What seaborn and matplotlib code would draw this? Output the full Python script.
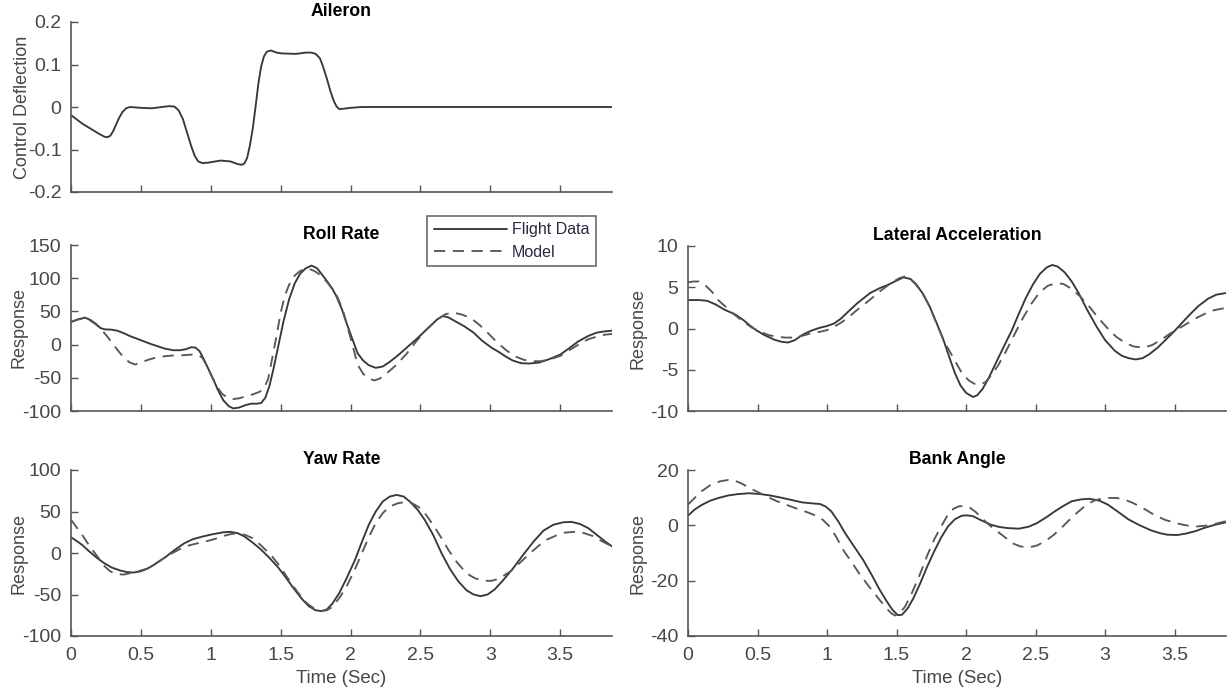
import matplotlib
matplotlib.use("Agg")
import matplotlib.pyplot as plt
import seaborn as sns

# ---- Aileron command ----
ail_t = [0, 0.04, 0.08, 0.12, 0.16, 0.20, 0.24, 0.26, 0.28, 0.30, 0.32, 0.345, 0.37, 0.395,
         0.42, 0.50, 0.58, 0.65, 0.70, 0.74, 0.77, 0.80, 0.83, 0.86, 0.885, 0.91, 0.94,
         0.98, 1.07, 1.14, 1.19, 1.22, 1.24, 1.26, 1.28, 1.30, 1.32, 1.34, 1.36, 1.38,
         1.40, 1.43, 1.47, 1.51, 1.61, 1.68, 1.72, 1.75, 1.78, 1.80, 1.83, 1.855, 1.88,
         1.90, 1.92, 1.95, 2.00, 2.08, 3.87]
ail_v = [-0.019, -0.029, -0.039, -0.047, -0.055, -0.063, -0.070, -0.071, -0.068, -0.058,
         -0.043, -0.025, -0.011, -0.003, 0.0, -0.002, -0.003, 0.0, 0.002, 0.001, -0.008,
         -0.028, -0.060, -0.092, -0.115, -0.128, -0.132, -0.131, -0.126, -0.128, -0.134,
         -0.136, -0.133, -0.120, -0.090, -0.051, 0.0, 0.054, 0.095, 0.119, 0.130, 0.133,
         0.128, 0.126, 0.125, 0.128, 0.128, 0.125, 0.115, 0.098, 0.067, 0.038, 0.014,
         0.001, -0.005, -0.004, -0.002, 0.0, 0.0]

# ---- Roll rate ----
roll_t_fd = [0, 0.05, 0.10, 0.14, 0.18, 0.21, 0.24, 0.29, 0.33, 0.38, 0.42, 0.47, 0.52, 0.57,
             0.62, 0.67, 0.73, 0.78, 0.82, 0.86, 0.89, 0.92, 0.95, 0.99, 1.02, 1.05, 1.09,
             1.13, 1.16, 1.20, 1.25, 1.29, 1.33, 1.36, 1.39, 1.42, 1.45, 1.49, 1.52, 1.56,
             1.60, 1.64, 1.68, 1.72, 1.76, 1.79, 1.83, 1.87, 1.90, 1.94, 1.97, 2.01, 2.05,
             2.09, 2.13, 2.18, 2.23, 2.28, 2.34, 2.41, 2.47, 2.52, 2.58, 2.62, 2.66, 2.70,
             2.75, 2.81, 2.88, 2.94, 3.01, 3.06, 3.11, 3.16, 3.22, 3.28, 3.35, 3.42, 3.50,
             3.56, 3.63, 3.70, 3.76, 3.82, 3.87]
roll_v_fd = [34, 38, 40.6, 37, 31, 25, 23, 22.5, 21, 17, 13, 9, 5, 1,
             -2.5, -6, -8.5, -8.5, -7, -4, -4.5, -10, -22, -40, -53, -68, -84,
             -93, -96, -95, -91, -89, -89, -88, -80, -62, -35, 5, 35, 68,
             92, 107, 115, 119, 115, 107, 96, 84, 72, 52, 33, 10, -13,
             -24, -31, -35, -33, -26, -16, -3, 8, 18, 30, 38, 43, 41,
             35, 28, 18, 6, -5, -11, -18, -24, -28, -28.5, -27, -22, -15,
             -6, 5, 13, 18, 20, 21]
roll_t_md = [0, 0.05, 0.10, 0.14, 0.18, 0.22, 0.26, 0.30, 0.34, 0.38, 0.42, 0.46, 0.50, 0.55,
             0.60, 0.65, 0.72, 0.80, 0.87, 0.91, 0.94, 0.97, 1.00, 1.04, 1.08, 1.12, 1.16,
             1.20, 1.25, 1.30, 1.35, 1.38, 1.41, 1.44, 1.47, 1.50, 1.53, 1.56, 1.60, 1.64,
             1.69, 1.74, 1.79, 1.84, 1.90, 1.94, 1.97, 2.01, 2.05, 2.09, 2.13, 2.17, 2.21,
             2.26, 2.32, 2.40, 2.47, 2.54, 2.62, 2.68, 2.74, 2.80, 2.86, 2.92, 2.98, 3.04,
             3.11, 3.18, 3.24, 3.30, 3.36, 3.43, 3.50, 3.56, 3.63, 3.70, 3.76, 3.82, 3.87]
roll_v_md = [34, 38, 39, 36, 30, 22, 12, 1, -10, -20, -27, -30, -27, -23,
             -20, -18, -16.5, -16, -15, -16, -20, -31, -45, -62, -74, -80, -82,
             -81, -78, -75, -71, -66, -52, -20, 13, 48, 74, 90, 104, 111,
             115, 111, 104, 92, 74, 55, 33, 2, -30, -44, -51, -54, -51,
             -43, -32, -14, 5, 22, 38, 46, 48, 45, 40, 30, 18, 5,
             -8, -18, -23, -25, -25, -22, -17, -9, 0, 8, 12, 15, 16]

# ---- Lateral acceleration ----
lat_t_fd = [0, 0.08, 0.14, 0.20, 0.26, 0.30, 0.34, 0.40, 0.45, 0.49, 0.55, 0.62, 0.67, 0.72,
            0.77, 0.82, 0.88, 0.95, 1.00, 1.05, 1.10, 1.15, 1.22, 1.31, 1.38, 1.44, 1.50,
            1.55, 1.60, 1.64, 1.69, 1.74, 1.79, 1.84, 1.88, 1.92, 1.96, 2.00, 2.05, 2.08,
            2.12, 2.16, 2.20, 2.26, 2.33, 2.38, 2.43, 2.48, 2.53, 2.58, 2.62, 2.66, 2.71,
            2.76, 2.81, 2.87, 2.94, 3.00, 3.07, 3.12, 3.17, 3.22, 3.27, 3.32, 3.38, 3.44,
            3.50, 3.56, 3.61, 3.67, 3.74, 3.80, 3.87]
lat_v_fd = [3.45, 3.45, 3.35, 2.9, 2.3, 2.0, 1.7, 1.0, 0.3, -0.2, -0.8, -1.35, -1.6, -1.7,
            -1.4, -0.8, -0.3, 0.1, 0.3, 0.6, 1.2, 2.0, 3.1, 4.3, 4.9, 5.3, 5.8,
            6.2, 6.0, 5.4, 4.2, 2.6, 0.6, -1.5, -3.5, -5.4, -6.9, -7.8, -8.3, -8.1,
            -7.3, -6.1, -4.7, -2.6, -0.2, 1.8, 3.7, 5.3, 6.6, 7.4, 7.7, 7.5, 6.8,
            5.7, 4.3, 2.3, 0.2, -1.4, -2.7, -3.3, -3.6, -3.75, -3.6, -3.1, -2.3, -1.3,
            -0.3, 0.8, 1.7, 2.7, 3.6, 4.1, 4.3]
lat_t_md = [0, 0.04, 0.08, 0.12, 0.17, 0.22, 0.28, 0.34, 0.40, 0.46, 0.52, 0.58, 0.64, 0.70,
            0.77, 0.84, 0.90, 0.95, 1.00, 1.05, 1.10, 1.15, 1.22, 1.31, 1.38, 1.46, 1.52,
            1.56, 1.60, 1.64, 1.69, 1.74, 1.79, 1.85, 1.92, 1.97, 2.02, 2.06, 2.10, 2.14,
            2.18, 2.23, 2.28, 2.34, 2.41, 2.47, 2.53, 2.59, 2.65, 2.70, 2.76, 2.82, 2.89,
            2.95, 3.02, 3.08, 3.15, 3.21, 3.28, 3.34, 3.40, 3.47, 3.53, 3.60, 3.66, 3.72,
            3.78, 3.87]
lat_v_md = [5.6, 5.7, 5.7, 5.3, 4.5, 3.4, 2.5, 1.6, 0.8, 0.1, -0.4, -0.8, -1.0, -1.1,
            -1.1, -0.8, -0.5, -0.4, -0.2, 0.2, 0.7, 1.3, 2.3, 3.5, 4.5, 5.5, 6.1,
            6.3, 6.0, 5.3, 4.2, 2.6, 0.5, -1.8, -3.9, -5.4, -6.3, -6.7, -6.8, -6.5,
            -5.7, -4.5, -3.0, -1.0, 1.3, 3.0, 4.4, 5.2, 5.5, 5.4, 4.8, 3.9, 2.6,
            1.3, 0.0, -1.0, -1.8, -2.2, -2.3, -2.0, -1.4, -0.6, 0.0, 0.7, 1.3, 1.8,
            2.2, 2.5]

# ---- Yaw rate ----
yaw_t_fd = [0, 0.04, 0.08, 0.13, 0.19, 0.24, 0.29, 0.35, 0.40, 0.45, 0.50, 0.55, 0.61, 0.68,
            0.74, 0.81, 0.87, 0.94, 1.01, 1.09, 1.14, 1.19, 1.24, 1.30, 1.36, 1.42, 1.48,
            1.53, 1.59, 1.65, 1.70, 1.75, 1.79, 1.83, 1.87, 1.92, 1.97, 2.03, 2.08, 2.13,
            2.18, 2.23, 2.28, 2.33, 2.38, 2.43, 2.48, 2.53, 2.59, 2.65, 2.71, 2.77, 2.83,
            2.88, 2.93, 2.98, 3.03, 3.09, 3.16, 3.24, 3.31, 3.38, 3.45, 3.52, 3.58, 3.64,
            3.70, 3.76, 3.82, 3.87]
yaw_v_fd = [19, 14.5, 9.7, 2, -6.5, -12.5, -17.4, -21, -23, -23.5, -22, -18.6, -12.5, -4.4,
            3.5, 11.7, 16.5, 19.8, 22.5, 25, 25.5, 24, 20, 12.5, 4, -6, -17,
            -28, -42, -55, -64, -69, -70, -68, -61, -48, -31, -9, 13, 34,
            50, 62, 68, 70, 68, 61, 52, 40, 22, 0, -19, -34, -45,
            -50, -52, -50, -44, -33, -19, -1, 14, 27, 34, 37, 37.5, 35,
            30, 22, 14, 8]
yaw_t_md = [0, 0.04, 0.08, 0.13, 0.19, 0.24, 0.28, 0.33, 0.38, 0.43, 0.49, 0.55, 0.62, 0.70,
            0.77, 0.83, 0.90, 0.96, 1.03, 1.09, 1.15, 1.20, 1.25, 1.30, 1.36, 1.43, 1.49,
            1.56, 1.62, 1.69, 1.74, 1.79, 1.83, 1.87, 1.92, 1.97, 2.03, 2.08, 2.13, 2.18,
            2.23, 2.28, 2.34, 2.39, 2.44, 2.49, 2.54, 2.59, 2.65, 2.70, 2.76, 2.83, 2.89,
            2.96, 3.01, 3.06, 3.14, 3.21, 3.27, 3.34, 3.40, 3.47, 3.53, 3.60, 3.66, 3.73,
            3.80, 3.87]
yaw_v_md = [40, 31, 21.8, 9, -4.4, -16, -22, -25.5, -26, -24, -21.5, -18.6, -11, -2.4,
            4, 8.5, 11.5, 13.7, 17, 20.6, 23, 23.5, 21.5, 17.8, 9, -2.4, -15,
            -32.7, -47, -61, -67, -70, -69, -65, -54, -40.8, -20, -0.4, 19, 36,
            48, 56, 60, 61.4, 60, 55, 46, 34, 18, 3.6, -11, -24.6, -30.5,
            -33.5, -33.5, -31, -22.6, -12, -2.4, 8, 15.8, 21, 24.5, 25.5, 24.5, 20.6,
            14, 8]

# ---- Bank angle ----
bank_t_fd = [0, 0.05, 0.10, 0.16, 0.22, 0.29, 0.36, 0.44, 0.52, 0.59, 0.67, 0.75, 0.82, 0.88,
             0.95, 0.99, 1.03, 1.08, 1.13, 1.19, 1.26, 1.32, 1.38, 1.43, 1.47, 1.51, 1.54,
             1.58, 1.62, 1.67, 1.72, 1.77, 1.82, 1.87, 1.92, 1.97, 2.01, 2.05, 2.11, 2.18,
             2.24, 2.30, 2.38, 2.45, 2.51, 2.58, 2.64, 2.70, 2.76, 2.83, 2.89, 2.96, 3.02,
             3.09, 3.17, 3.25, 3.33, 3.40, 3.45, 3.52, 3.58, 3.65, 3.71, 3.79, 3.87]
bank_v_fd = [3.5, 5.8, 7.4, 8.9, 9.9, 10.8, 11.3, 11.6, 11.3, 10.8, 10.0, 9.1, 8.3, 8.0,
             7.7, 6.8, 5.1, 1.5, -2.8, -7.3, -12.5, -17.8, -23.4, -27.5, -30.5, -32.5, -32.3,
             -30.0, -26.5, -21.0, -15.0, -9.5, -4.5, -0.4, 2.2, 3.5, 3.6, 3.3, 1.8, 0.2,
             -0.6, -1.0, -1.2, -0.5, 0.8, 3.0, 5.1, 7.0, 8.7, 9.4, 9.6, 8.9, 7.5,
             5.0, 2.1, 0.0, -1.8, -2.9, -3.4, -3.5, -3.0, -2.1, -1.0, 0.2, 1.1]
bank_t_md = [0, 0.05, 0.10, 0.16, 0.23, 0.29, 0.34, 0.39, 0.45, 0.52, 0.58, 0.64, 0.72, 0.80,
             0.86, 0.92, 0.97, 1.02, 1.07, 1.12, 1.18, 1.23, 1.30, 1.36, 1.42, 1.46, 1.49,
             1.52, 1.56, 1.61, 1.67, 1.72, 1.77, 1.82, 1.87, 1.91, 1.95, 1.99, 2.03, 2.07,
             2.12, 2.17, 2.22, 2.28, 2.33, 2.39, 2.45, 2.51, 2.57, 2.63, 2.68, 2.74, 2.80,
             2.86, 2.92, 2.97, 3.02, 3.08, 3.14, 3.20, 3.27, 3.35, 3.43, 3.51, 3.58, 3.66,
             3.73, 3.79, 3.87]
bank_v_md = [7.5, 10.0, 12.4, 14.5, 15.9, 16.4, 16.1, 15.0, 13.3, 11.6, 10.1, 8.7, 7.2, 5.7,
             4.7, 3.5, 2.0, -0.5, -4.5, -9.2, -13.5, -17.3, -22.0, -25.8, -29.5, -31.7, -32.6,
             -31.8, -29.5, -24.5, -17.5, -11.0, -5.2, -0.5, 3.9, 6.0, 6.9, 7.0, 6.3, 4.8,
             2.3, 0.0, -2.0, -4.3, -6.4, -7.6, -8.0, -7.3, -5.7, -3.5, -1.2, 1.8, 4.6,
             7.2, 8.9, 9.6, 9.9, 9.9, 9.3, 8.1, 6.3, 3.9, 2.0, 0.8, 0.0, -0.4,
             -0.1, 0.5, 1.5]

x_ticks = [0, 0.5, 1, 1.5, 2, 2.5, 3, 3.5]
x_tick_labels = ["0", "0.5", "1", "1.5", "2", "2.5", "3", "3.5"]
series_names = ["Flight Data", "Model"]

sns.set_style("ticks")
plt.rcParams["font.family"] = ["Liberation Sans", "DejaVu Sans"]

W, H = 1228, 696
fig = plt.figure(figsize=(W / 100, H / 100), dpi=100)


def make_axes(left, top, right, bottom):
    return fig.add_axes([left / W, 1 - bottom / H, (right - left) / W, (bottom - top) / H])


ax_ail = make_axes(71, 22, 612, 192)
ax_roll = make_axes(71, 245, 612, 411)
ax_yaw = make_axes(71, 470, 612, 636)
ax_lat = make_axes(688, 246, 1226, 411)
ax_bank = make_axes(688, 470, 1226, 636)

solid_color = "#383838"
dash_color = "#585858"
text_gray = "#474747"
dash_style = (0, (6, 4))


def draw_pair(ax, t1, v1, t2, v2):
    sns.lineplot(x=t1, y=v1, ax=ax, color=solid_color, linewidth=1.35,
                 label=series_names[0], legend=False)
    sns.lineplot(x=t2, y=v2, ax=ax, color=dash_color, linewidth=1.35,
                 linestyle=dash_style, label=series_names[1], legend=False)


sns.lineplot(x=ail_t, y=ail_v, ax=ax_ail, color=solid_color, linewidth=1.35, legend=False)
draw_pair(ax_roll, roll_t_fd, roll_v_fd, roll_t_md, roll_v_md)
draw_pair(ax_yaw, yaw_t_fd, yaw_v_fd, yaw_t_md, yaw_v_md)
draw_pair(ax_lat, lat_t_fd, lat_v_fd, lat_t_md, lat_v_md)
draw_pair(ax_bank, bank_t_fd, bank_v_fd, bank_t_md, bank_v_md)

panels = [
    (ax_ail, "Aileron", (-0.2, 0.2), [-0.2, -0.1, 0, 0.1, 0.2],
     ["-0.2", "-0.1", "0", "0.1", "0.2"], "Control Deflection", False, -0.074),
    (ax_roll, "Roll Rate", (-100, 150), [-100, -50, 0, 50, 100, 150],
     ["-100", "-50", "0", "50", "100", "150"], "Response", False, -0.081),
    (ax_yaw, "Yaw Rate", (-100, 100), [-100, -50, 0, 50, 100],
     ["-100", "-50", "0", "50", "100"], "Response", True, -0.081),
    (ax_lat, "Lateral Acceleration", (-10, 10), [-10, -5, 0, 5, 10],
     ["-10", "-5", "0", "5", "10"], "Response", False, -0.078),
    (ax_bank, "Bank Angle", (-40, 20), [-40, -20, 0, 20],
     ["-40", "-20", "0", "20"], "Response", True, -0.078),
]

for ax, title, ylim, yt, ytl, ylab, show_x, ylab_x in panels:
    ax.set_xlim(0, 3.87)
    ax.set_ylim(*ylim)
    ax.set_yticks(yt)
    ax.set_yticklabels(ytl)
    ax.set_xticks(x_ticks)
    if show_x:
        ax.set_xticklabels(x_tick_labels)
        ax.set_xlabel("Time (Sec)", fontsize=13.4, color=text_gray, labelpad=4)
    else:
        ax.set_xticklabels([])
        ax.set_xlabel("")
    ax.set_ylabel(ylab, fontsize=13, color=text_gray)
    ax.yaxis.set_label_coords(ylab_x, 0.5)
    ax.set_title(title, fontsize=12.7, fontweight="bold", color="black", pad=4)
    ax.tick_params(direction="in", length=5, width=1.0, colors="#555555",
                   labelcolor=text_gray, labelsize=14)
    ax.tick_params(axis="y", pad=7)
    ax.tick_params(axis="x", pad=8)
    for side in ("top", "right"):
        ax.spines[side].set_visible(False)
    for side in ("left", "bottom"):
        ax.spines[side].set_color("#555555")
        ax.spines[side].set_linewidth(1.2)
    ax.set_facecolor("white")

leg = ax_roll.legend(loc="upper right", bbox_to_anchor=(0.9704, 1.1747), borderaxespad=0,
                     fontsize=11.5, handlelength=4.6, handletextpad=0.3, borderpad=0.4,
                     labelspacing=0.45, fancybox=False, frameon=True)
leg.get_frame().set_edgecolor("#444444")
leg.get_frame().set_linewidth(1.2)
for txt in leg.get_texts():
    txt.set_color("#2e2840")

fig.savefig("out.png", dpi=100, facecolor="white")
